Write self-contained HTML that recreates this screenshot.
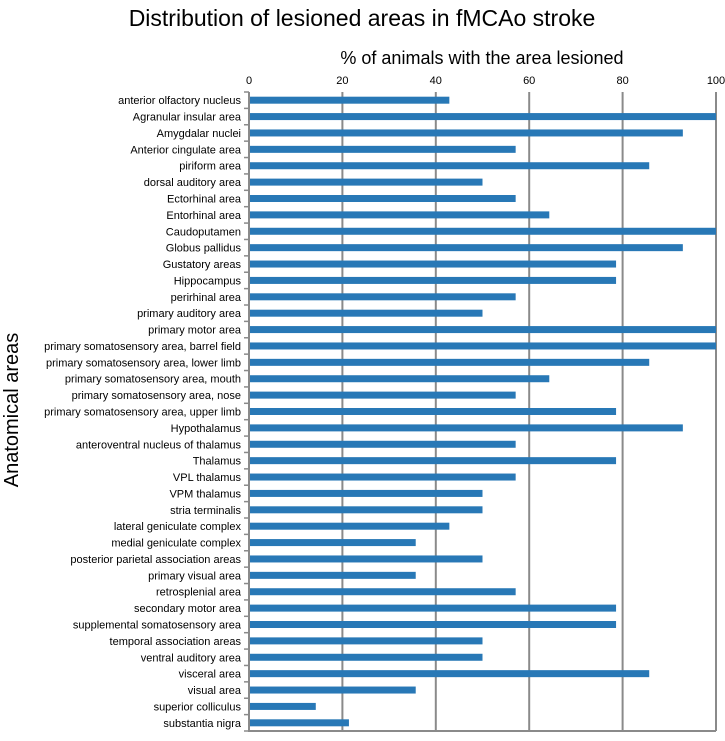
<!DOCTYPE html>
<html><head><meta charset="utf-8"><style>
body{margin:0;background:#fff;}
svg text{font-family:"Liberation Sans",sans-serif;}
</style></head><body>
<svg id="c" width="725" height="736" xmlns="http://www.w3.org/2000/svg">
<text x="362" y="26" font-size="23" text-anchor="middle">Distribution of lesioned areas in fMCAo stroke</text>
<text x="482" y="64" font-size="18" text-anchor="middle">% of animals with the area lesioned</text>
<text transform="translate(18,410) rotate(-90)" font-size="20" text-anchor="middle">Anatomical areas</text>
<g id="plot"></g>
</svg>
<script>
const categories=["anterior olfactory nucleus","Agranular insular area","Amygdalar nuclei","Anterior cingulate area","piriform area","dorsal auditory area","Ectorhinal area","Entorhinal area","Caudoputamen","Globus pallidus","Gustatory areas","Hippocampus","perirhinal area","primary auditory area","primary motor area","primary somatosensory  area, barrel field","primary somatosensory  area, lower limb","primary somatosensory  area, mouth","primary somatosensory  area, nose","primary somatosensory  area, upper limb","Hypothalamus","anteroventral nucleus of thalamus","Thalamus","VPL thalamus","VPM thalamus","stria terminalis","lateral geniculate complex","medial geniculate complex","posterior parietal association  areas","primary visual area","retrosplenial area","secondary motor area","supplemental somatosensory area","temporal association areas","ventral auditory area","visceral area","visual area","superior colliculus","substantia nigra"];
const values=[42.9,100,92.9,57.1,85.7,50,57.1,64.3,100,92.9,78.6,78.6,57.1,50,100,100,85.7,64.3,57.1,78.6,92.9,57.1,78.6,57.1,50,50,42.9,35.7,50,35.7,57.1,78.6,78.6,50,50,85.7,35.7,14.3,21.4];
const ticks=[0,20,40,60,80,100];
const X0=249,X1=716,Y0=92,Y1=731;
const x=v=>X0+(X1-X0)*v/100;
const band=(Y1-Y0)/categories.length;
const y=i=>Y0+band*i;
const g=document.getElementById('plot');
const NS="http://www.w3.org/2000/svg";
function mk(t,a){const e=document.createElementNS(NS,t);for(const k in a)e.setAttribute(k,a[k]);g.appendChild(e);return e;}
ticks.forEach((t,i)=>{
 if(t>0){const l=mk('line',{x1:x(t),x2:x(t),y1:Y0,y2:Y1,stroke:'#8a8a8a','stroke-width':2});
 
 }
 const tx=mk('text',{x:x(t),y:84,'font-size':11,'text-anchor':'middle'});tx.textContent=t;
 
 
});
const ax=mk('path',{d:`M${X0},${Y0} V${Y1} H${X1}`,stroke:'#8a8a8a','stroke-width':2,fill:'none'});


for(let i=0;i<=categories.length;i++){const t=mk('line',{x1:X0-5,x2:X0,y1:y(i),y2:y(i),stroke:'#8a8a8a','stroke-width':1.5});
 
 }
categories.forEach((c,i)=>{
 const cy=y(i)+band/2;
 const b=mk('rect',{x:X0+1,y:cy-3.5,width:x(values[i])-X0-1,height:7,fill:'#2878b6'});
 
 
 const t=mk('text',{x:241,y:cy+4,'font-size':11,'text-anchor':'end'});t.textContent=c;
 
 
});
</script>
</body></html>
